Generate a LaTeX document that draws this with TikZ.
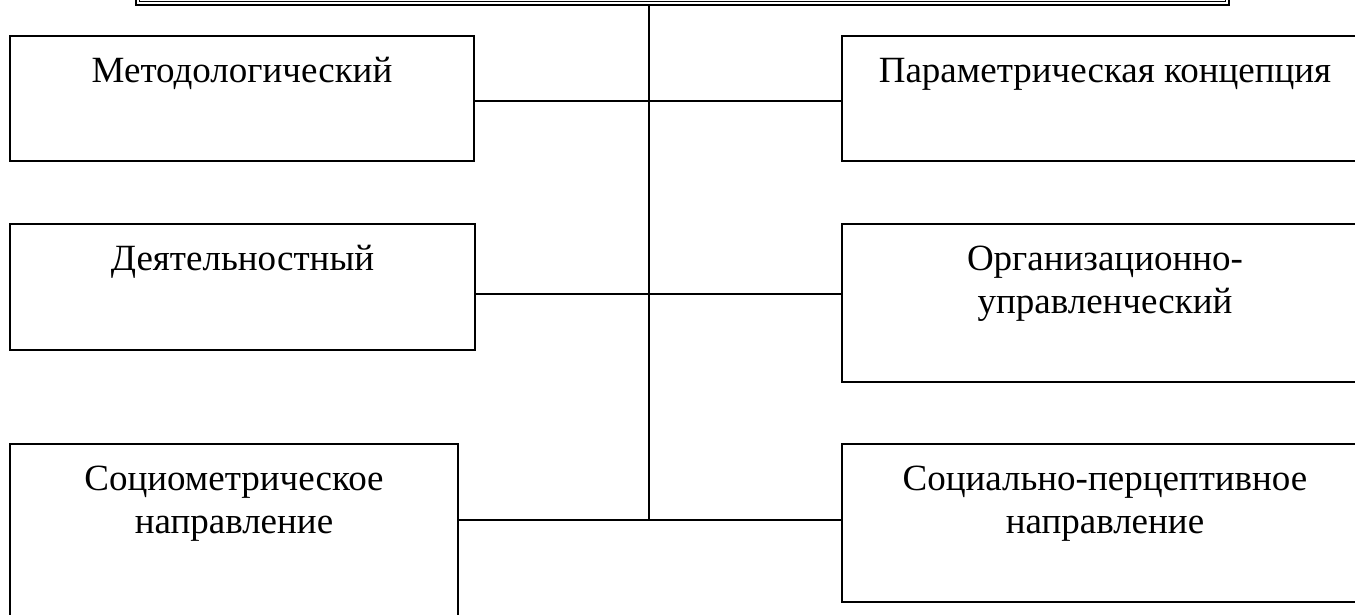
\documentclass[tikz,border=0pt]{standalone}
\usepackage{fontspec}
\setmainfont{Liberation Serif}
\begin{document}
\begin{tikzpicture}[x=1pt,y=-1pt,
  box/.style={draw, line width=2.7pt, rectangle, inner sep=0pt, outer sep=0pt, anchor=north west},
  lbl/.style={anchor=north, inner sep=0pt, outer sep=0pt, align=center, font=\fontsize{37}{43}\selectfont},
  conn/.style={line width=2.3pt}]
\useasboundingbox (0,0) rectangle (1355,614);
\clip (0,0) rectangle (1355,614);
% top box (cut off)
\node[draw, line width=2.8pt, rectangle, inner sep=0pt, outer sep=0pt, minimum width=1093pt, minimum height=80pt, anchor=south west] (top) at (136,5) {};
\draw[line width=1.1pt] (139.5,1.5) rectangle (1225.5,-80);
% left boxes
\node[box, minimum width=464pt, minimum height=125pt] (l1) at (10,36) {};
\node[box, minimum width=465pt, minimum height=126pt] (l2) at (10,224) {};
\node[box, minimum width=448pt, minimum height=190pt] (l3) at (10,444) {};
% right boxes
\node[box, minimum width=526pt, minimum height=125pt] (r1) at (842,36) {};
\node[box, minimum width=526pt, minimum height=158pt] (r2) at (842,224) {};
\node[box, minimum width=526pt, minimum height=158pt] (r3) at (842,444) {};
% labels
\node[lbl] (t1) at ([yshift=-16pt]l1.north) {\rule{0pt}{30pt}Методологический};
\node[lbl] (t2) at ([yshift=-16pt]l2.north) {\rule{0pt}{30pt}Деятельностный};
\node[lbl] (t3) at ([yshift=-16pt]l3.north) {\rule{0pt}{30pt}Социометрическое\\направление};
\node[lbl] (t4) at ([yshift=-16pt]r1.north) {\rule{0pt}{30pt}Параметрическая концепция};
\node[lbl] (t5) at ([yshift=-16pt]r2.north) {\rule{0pt}{30pt}Организационно-\\управленческий};
\node[lbl] (t6) at ([yshift=-16pt]r3.north) {\rule{0pt}{30pt}Социально-перцептивное\\направление};
% connectors
\coordinate (y1) at (0,101);
\coordinate (y2) at (0,294);
\coordinate (y3) at (649,520);
\draw[conn] (top.south -| y3) -- (y3);
\draw[conn] (l1.east |- y1) -- (r1.west |- y1);
\draw[conn] (l2.east |- y2) -- (r2.west |- y2);
\draw[conn] (l3.east |- y3) -- (r3.west |- y3);
\end{tikzpicture}
\end{document}
